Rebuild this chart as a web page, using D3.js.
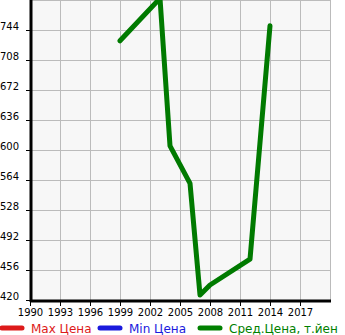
<!DOCTYPE html>
<html>
<head>
<meta charset="utf-8">
<script src="https://cdn.jsdelivr.net/npm/d3@7"></script>
<style>
  body { margin: 0; background: #fff; }
  svg { display: block; font-family: "DejaVu Sans", sans-serif; }
</style>
</head>
<body>
<div id="chart"></div>
<script>
// data
var years = [1999, 2003, 2004, 2006, 2007, 2008, 2012, 2014];
var avgPrice = [731, 782, 605, 560, 426, 438, 469, 749];
var xTicks = [1990, 1993, 1996, 1999, 2002, 2005, 2008, 2011, 2014, 2017];
var yTicks = [420, 456, 492, 528, 564, 600, 636, 672, 708, 744];
var legendNames = ["Max Цена", "Min Цена", "Сред.Цена, т.йен"];
var legendColors = ["#dd1a1a", "#1a1add", "#008000"];

var W = 345, H = 335;
// note: "top" is taken by window.top, so plot edges get own names
var plotL = 30, plotR = 330, plotT = 0, plotB = 300;

var svg = d3.select("#chart").append("svg")
  .attr("width", W).attr("height", H);

var x = d3.scaleLinear().domain([1990, 2020]).range([plotL, plotR]);
var y = d3.scaleLinear().domain([420, 780]).range([plotB, plotT]);

svg.append("rect")
  .attr("x", plotL).attr("y", plotT)
  .attr("width", plotR - plotL).attr("height", plotB - plotT)
  .style("fill", "#f7f7f7");

// grid
var grid = svg.append("g").style("stroke", "#bbbbbb").style("stroke-width", 1);
xTicks.concat([2020]).forEach(function(t) {
  grid.append("line")
    .attr("x1", x(t) + 0.5).attr("x2", x(t) + 0.5)
    .attr("y1", plotT).attr("y2", plotB);
});
yTicks.concat([780]).forEach(function(t) {
  grid.append("line")
    .attr("x1", plotL).attr("x2", plotR)
    .attr("y1", y(t) + 0.5).attr("y2", y(t) + 0.5);
});

// axes
var xAxis = d3.axisBottom(x).tickValues(xTicks).tickFormat(d3.format("d"))
  .tickSizeInner(5).tickSizeOuter(0).tickPadding(3);
var gx = svg.append("g").attr("transform", "translate(0," + (plotB + 1) + ")").call(xAxis);
gx.select(".domain").attr("d", "M" + plotL + ",0H" + (plotR + 1)).style("stroke", "#000").style("stroke-width", 3);
gx.selectAll(".tick line").style("stroke", "#000");
gx.selectAll("text").style("font-size", "10px").style("fill", "#000").style("font-family", "DejaVu Sans");

var yAxis = d3.axisLeft(y).tickValues(yTicks).tickFormat(d3.format("d"))
  .tickSizeInner(5).tickSizeOuter(0).tickPadding(7);
var gy = svg.append("g").attr("transform", "translate(" + (plotL + 1) + ",0)").call(yAxis);
gy.select(".domain").attr("d", "M0," + plotT + "V" + (plotB + 2)).style("stroke", "#000").style("stroke-width", 3);
gy.selectAll(".tick line").style("stroke", "#000");
gy.selectAll("text").style("font-size", "10px").style("fill", "#000")
  .style("font-family", "DejaVu Sans").attr("dy", "-0.1em");

// clip for line
svg.append("clipPath").attr("id", "plotclip").append("rect")
  .attr("x", plotL).attr("y", plotT).attr("width", plotR - plotL).attr("height", plotB - plotT);

var line = d3.line()
  .x(function(d, i) { return x(years[i]); })
  .y(function(d) { return y(d); });

svg.append("path")
  .datum(avgPrice)
  .attr("clip-path", "url(#plotclip)")
  .attr("d", line)
  .style("fill", "none")
  .style("stroke", "#007a00")
  .style("stroke-width", 5)
  .style("stroke-linejoin", "round")
  .style("stroke-linecap", "round");

// legend
var legendX = [0, 98, 198];
var lg = svg.append("g");
legendNames.forEach(function(name, i) {
  lg.append("line")
    .attr("x1", legendX[i] + 2).attr("x2", legendX[i] + 22)
    .attr("y1", 328).attr("y2", 328)
    .style("stroke", legendColors[i]).style("stroke-width", 5)
    .style("stroke-linecap", "round");
  lg.append("text")
    .attr("x", legendX[i] + 31).attr("y", 333)
    .style("font-size", "12px").style("fill", legendColors[i])
    .text(name);
});
</script>
</body>
</html>
